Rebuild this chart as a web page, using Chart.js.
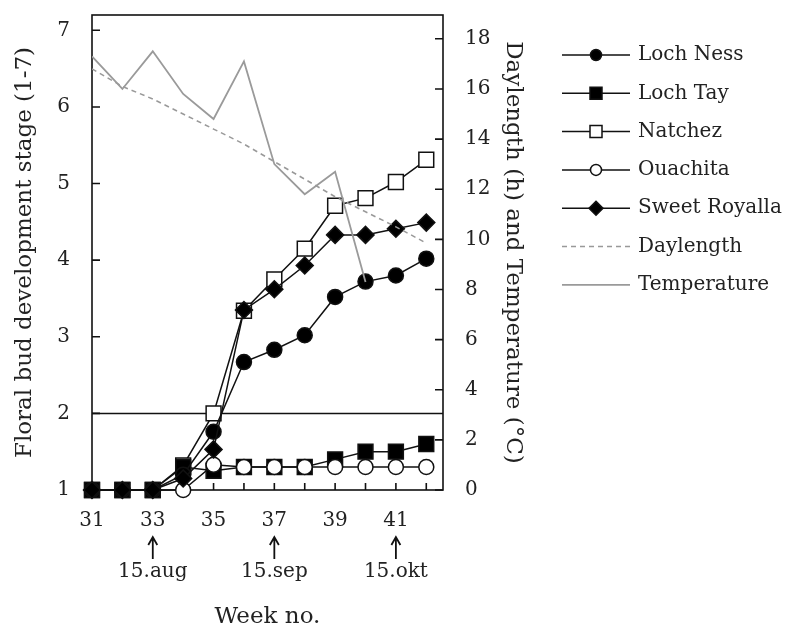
<!DOCTYPE html>
<html lang="en">
<head>
<meta charset="UTF-8">
<title>Floral bud development</title>
<script src="https://cdn.jsdelivr.net/npm/chart.js"></script>
<style>
    body { margin: 0; background: #fff; }
    #grafico { display: block; }
</style>
</head>
<body>
<canvas id="grafico" width="789" height="633"></canvas>
<script>
    // week numbers on the x axis
    var weeks = [31, 32, 33, 34, 35, 36, 37, 38, 39, 40, 41, 42];

    // floral bud development stage (left axis, 1-7)
    var lochNess     = [1, 1, 1, 1.20, 1.76, 2.67, 2.83, 3.02, 3.52, 3.72, 3.80, 4.02];
    var lochTay      = [1, 1, 1, 1.30, 1.25, 1.30, 1.30, 1.30, 1.40, 1.50, 1.50, 1.60];
    var natchez      = [1, 1, 1, 1.32, 2.00, 3.34, 3.75, 4.15, 4.71, 4.81, 5.02, 5.31];
    var ouachita     = [1, 1, 1, 1.00, 1.33, 1.30, 1.30, 1.30, 1.30, 1.30, 1.30, 1.30];
    var sweetRoyalla = [1, 1, 1, 1.15, 1.53, 3.35, 3.62, 3.93, 4.33, 4.33, 4.41, 4.49];

    // right axis: daylength (h) and temperature (C)
    var daylength   = [16.8, 16.1, 15.6, 15.0, 14.4, 13.8, 13.1, 12.4, 11.7, 11.1, 10.5, 9.85];
    var temperature = [17.3, 16.0, 17.5, 15.8, 14.8, 17.1, 13.0, 11.8, 12.7, 8.3, null, null];

    // threshold line at stage 2
    var thresholdStage = 2;

    // dates shown under the x axis
    var dateWeeks  = [33, 37, 41];
    var dateLabels = ['15.aug', '15.sep', '15.okt'];

    var xMin = 31, xMax = 42.55;
    var fonte = 'DejaVu Serif';

    function pontos(valores) {
        var lista = [];
        for (var i = 0; i < weeks.length; i++) {
            lista.push({ x: weeks[i], y: valores[i] });
        }
        return lista;
    }

    function desenhaMarcador(ctx, estilo, x, y, r, preenchido) {
        ctx.beginPath();
        if (estilo == 'circle') {
            ctx.arc(x, y, r, 0, Math.PI * 2);
        } else if (estilo == 'rect') {
            ctx.rect(x - r, y - r, 2 * r, 2 * r);
        } else {
            ctx.moveTo(x, y - r);
            ctx.lineTo(x + r, y);
            ctx.lineTo(x, y + r);
            ctx.lineTo(x - r, y);
            ctx.closePath();
        }
        ctx.fillStyle = preenchido;
        ctx.fill();
        ctx.stroke();
    }

    // no extra padding from the tick labels, so the plot box stays put
    function semPadding(s) {
        s.paddingTop = 0;
        s.paddingBottom = 0;
        s.paddingLeft = 0;
        s.paddingRight = 0;
    }

    // frame and inward tick marks
    var pluginMoldura = {
        id: 'moldura',
        beforeDatasetsDraw: function (chart) {
            var ctx = chart.ctx, a = chart.chartArea;
            var sx = chart.scales.x, sy = chart.scales.y, sy2 = chart.scales.y2;
            ctx.save();
            ctx.strokeStyle = '#111';
            ctx.lineWidth = 1.6;
            ctx.strokeRect(a.left, a.top, a.right - a.left, a.bottom - a.top);
            ctx.beginPath();
            sx.ticks.forEach(function (t) {
                var px = sx.getPixelForValue(t.value);
                ctx.moveTo(px, a.bottom);
                ctx.lineTo(px, a.bottom - 7);
            });
            sy.ticks.forEach(function (t) {
                var py = sy.getPixelForValue(t.value);
                ctx.moveTo(a.left, py);
                ctx.lineTo(a.left + 8, py);
            });
            sy2.ticks.forEach(function (t) {
                var py = sy2.getPixelForValue(t.value);
                ctx.moveTo(a.right, py);
                ctx.lineTo(a.right - 8, py);
            });
            ctx.stroke();
            ctx.restore();
        }
    };

    // legend on the right: line sample with marker in the middle
    var pluginLegenda = {
        id: 'legenda',
        afterDraw: function (chart) {
            var ctx = chart.ctx;
            var x0 = 562, x1 = 630, xt = 638, y = 55, passo = 38.3;
            chart.data.datasets.forEach(function (ds) {
                if (ds.semLegenda) return;
                ctx.save();
                ctx.strokeStyle = ds.borderColor;
                ctx.lineWidth = ds.borderWidth;
                ctx.setLineDash(ds.borderDash || []);
                ctx.beginPath();
                ctx.moveTo(x0, y);
                ctx.lineTo(x1, y);
                ctx.stroke();
                ctx.setLineDash([]);
                if (ds.pointRadius > 0) {
                    ctx.strokeStyle = ds.pointBorderColor;
                    ctx.lineWidth = 1.5;
                    var r = ds.pointStyle == 'circle' ? 5.5 : (ds.pointStyle == 'rect' ? 6 : 7);
                    desenhaMarcador(ctx, ds.pointStyle, (x0 + x1) / 2, y, r, ds.pointBackgroundColor);
                }
                ctx.fillStyle = '#222';
                ctx.font = '20px "' + fonte + '"';
                ctx.textAlign = 'left';
                ctx.textBaseline = 'middle';
                ctx.fillText(ds.label, xt, y);
                ctx.restore();
                y += passo;
            });
        }
    };

    // arrows with dates under the x axis
    var pluginDatas = {
        id: 'datas',
        afterDraw: function (chart) {
            var ctx = chart.ctx, sx = chart.scales.x;
            ctx.save();
            ctx.strokeStyle = '#111';
            ctx.fillStyle = '#222';
            ctx.lineWidth = 1.8;
            ctx.font = '20px "' + fonte + '"';
            ctx.textAlign = 'center';
            ctx.textBaseline = 'middle';
            for (var i = 0; i < dateWeeks.length; i++) {
                var px = sx.getPixelForValue(dateWeeks[i]);
                ctx.beginPath();
                ctx.moveTo(px, 559);
                ctx.lineTo(px, 538);
                ctx.moveTo(px - 4.5, 545);
                ctx.lineTo(px, 537);
                ctx.lineTo(px + 4.5, 545);
                ctx.stroke();
                ctx.fillText(dateLabels[i], px, 572);
            }
            ctx.restore();
        }
    };

    function serie(nome, valores, estilo, raio, cor, ordem) {
        return {
            label: nome,
            data: pontos(valores),
            yAxisID: 'y',
            borderColor: '#111',
            borderWidth: 1.5,
            pointStyle: estilo,
            pointRadius: raio,
            pointBackgroundColor: cor,
            pointBorderColor: '#111',
            pointBorderWidth: 1.5,
            clip: false,
            order: ordem
        };
    }

    var ctx = document.getElementById('grafico').getContext('2d');
    var grafico = new Chart(ctx, {
        type: 'line',
        data: {
            datasets: [
                serie('Loch Ness', lochNess, 'circle', 7.5, '#000', 3),
                serie('Loch Tay', lochTay, 'rect', 10.5, '#000', 5),
                serie('Natchez', natchez, 'rect', 10.5, '#fff', 6),
                serie('Ouachita', ouachita, 'circle', 7.5, '#fff', 4),
                serie('Sweet Royalla', sweetRoyalla, 'rectRot', 8.5, '#000', 2),
                {
                    label: 'Daylength',
                    data: pontos(daylength),
                    yAxisID: 'y2',
                    borderColor: '#999',
                    borderWidth: 1.5,
                    borderDash: [5, 4],
                    pointRadius: 0,
                    order: 1
                },
                {
                    label: 'Temperature',
                    data: pontos(temperature),
                    yAxisID: 'y2',
                    borderColor: '#9a9a9a',
                    borderWidth: 1.8,
                    pointRadius: 0,
                    spanGaps: false,
                    order: 0
                },
                {
                    label: 'limiar',
                    semLegenda: true,
                    data: [{ x: xMin, y: thresholdStage }, { x: xMax, y: thresholdStage }],
                    yAxisID: 'y',
                    borderColor: '#111',
                    borderWidth: 1.5,
                    pointRadius: 0,
                    order: 7
                }
            ]
        },
        options: {
            responsive: false,
            animation: false,
            devicePixelRatio: 1,
            events: [],
            layout: { padding: { top: 15, right: 256, bottom: 0, left: 0 } },
            plugins: {
                legend: { display: false },
                tooltip: { enabled: false }
            },
            scales: {
                x: {
                    type: 'linear',
                    min: xMin,
                    max: xMax,
                    grid: { display: false, drawTicks: false },
                    border: { display: false },
                    ticks: {
                        stepSize: 1,
                        includeBounds: false,
                        autoSkip: false,
                        maxRotation: 0,
                        padding: 19,
                        color: '#222',
                        font: { family: fonte, size: 20 },
                        callback: function (v) { return v % 2 == 1 ? v : ''; }
                    },
                    title: {
                        display: true,
                        text: 'Week no.',
                        color: '#222',
                        font: { family: fonte, size: 23 },
                        padding: { top: 0, bottom: 2 }
                    },
                    afterFit: function (s) { s.height = 143; semPadding(s); }
                },
                y: {
                    position: 'left',
                    min: 1,
                    max: 7.2,
                    grid: { display: false, drawTicks: false },
                    border: { display: false },
                    ticks: {
                        stepSize: 1,
                        includeBounds: false,
                        padding: 22,
                        color: '#222',
                        font: { family: fonte, size: 20 }
                    },
                    title: {
                        display: true,
                        text: 'Floral bud development stage (1-7)',
                        color: '#222',
                        font: { family: fonte, size: 23 },
                        padding: { top: 11, bottom: 0 }
                    },
                    afterFit: function (s) { s.width = 92; semPadding(s); }
                },
                y2: {
                    position: 'right',
                    min: 0,
                    max: 18.95,
                    grid: { display: false, drawTicks: false },
                    border: { display: false },
                    ticks: {
                        stepSize: 2,
                        includeBounds: false,
                        padding: 22,
                        color: '#222',
                        font: { family: fonte, size: 20 }
                    },
                    title: {
                        display: true,
                        text: 'Daylength (h) and Temperature (°C)',
                        color: '#222',
                        font: { family: fonte, size: 23 },
                        padding: { top: 6, bottom: 0 }
                    },
                    afterFit: function (s) { s.width = 90; semPadding(s); }
                }
            }
        },
        plugins: [pluginMoldura, pluginLegenda, pluginDatas]
    });
</script>
</body>
</html>
